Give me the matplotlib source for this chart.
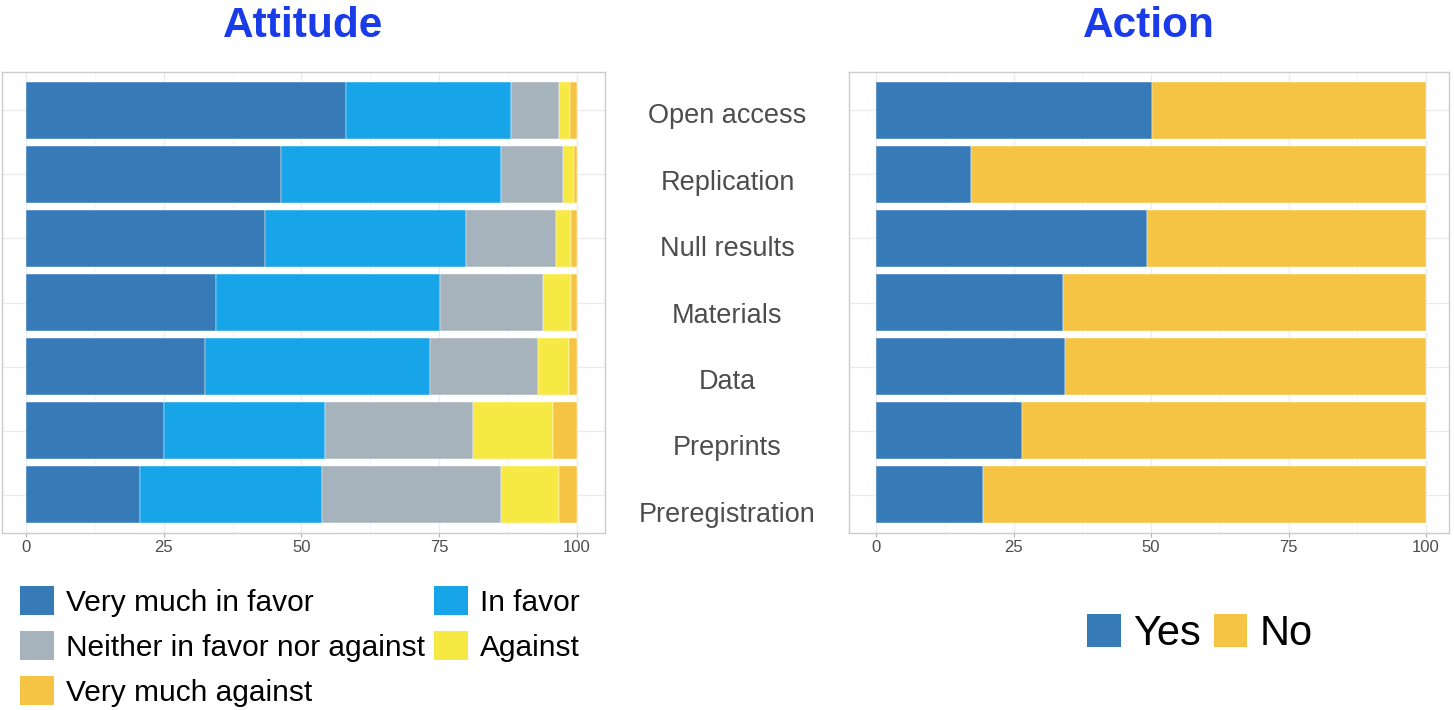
import numpy as np
import matplotlib
matplotlib.use("Agg")
import matplotlib.pyplot as plt
from matplotlib.patches import Patch

plt.rcParams['font.family'] = ['Liberation Sans', 'DejaVu Sans']

categories = ["Open access", "Replication", "Null results", "Materials",
              "Data", "Preprints", "Preregistration"]

# attitude shares (percent), one list per answer
very_much_in_favor = [58.1, 46.2, 43.4, 34.4, 32.4, 25.1, 20.7]
in_favor = [30.0, 40.1, 36.5, 40.8, 40.9, 29.2, 33.1]
neither = [8.6, 11.2, 16.3, 18.7, 19.7, 26.9, 32.4]
against = [2.1, 1.9, 2.8, 5.0, 5.6, 14.4, 10.5]
very_much_against = [1.2, 0.6, 1.0, 1.1, 1.4, 4.4, 3.3]

# action shares (percent)
yes = [50.2, 17.2, 49.2, 34.0, 34.4, 26.6, 19.5]
no = [49.8, 82.8, 50.8, 66.0, 65.6, 73.4, 80.5]

attitude_labels = ["Very much in favor", "In favor", "Neither in favor nor against",
                   "Against", "Very much against"]
attitude_colors = ["#367bb7", "#18a4e9", "#a6b3bc", "#f7e944", "#f6c444"]
action_labels = ["Yes", "No"]
action_colors = ["#367bb7", "#f6c444"]

W, H = 1454, 710
fig = plt.figure(figsize=(W / 100, H / 100), dpi=100)

def px_axes(x0, y0, x1, y1):
    return fig.add_axes([x0 / W, 1 - y1 / H, (x1 - x0) / W, (y1 - y0) / H])

def style(ax, xlim):
    ax.set_xlim(*xlim)
    ax.set_ylim(6.6, -0.6)
    ax.set_xticks([0, 25, 50, 75, 100])
    ax.set_xticks([12.5, 37.5, 62.5, 87.5], minor=True)
    ax.set_yticks(range(len(categories)))
    ax.set_yticklabels([])
    ax.grid(True, which="major", color="#ebebeb", lw=1.0)
    ax.grid(True, which="minor", axis="x", color="#f5f5f5", lw=0.8)
    ax.set_axisbelow(True)
    for s in ax.spines.values():
        s.set_color("#cccccc")
        s.set_linewidth(1.0)
    ax.tick_params(axis="x", which="major", length=3, color="#b3b3b3",
                   labelsize=12, labelcolor="#4d4d4d", pad=2)
    ax.tick_params(axis="x", which="minor", length=0)
    ax.tick_params(axis="y", length=0)

y = np.arange(len(categories))

# left panel: attitude
ax1 = px_axes(2, 72, 605, 533)
style(ax1, (-4.36, 105.1))
left = np.zeros(len(categories))
series = [very_much_in_favor, in_favor, neither, against, very_much_against]
for vals, col, lab in zip(series, attitude_colors, attitude_labels):
    ax1.barh(y, vals, left=left, height=0.9, color=col, label=lab,
             edgecolor="white", linewidth=0.3)
    left += np.array(vals)
ax1.set_title("Attitude", fontsize=30.5, fontweight="bold", color="#1a3be8", pad=25)

# right panel: action
ax2 = px_axes(849, 72, 1449, 533)
style(ax2, (-4.91, 104.18))
ax2.barh(y, yes, height=0.9, color=action_colors[0], label="Yes",
         edgecolor="white", linewidth=0.3)
ax2.barh(y, no, left=yes, height=0.9, color=action_colors[1], label="No",
         edgecolor="white", linewidth=0.3)
ax2.set_title("Action", fontsize=30.5, fontweight="bold", color="#1a3be8", pad=25)

# category labels between the panels
axm = px_axes(610, 83, 845, 548)
axm.set_xlim(0, 1)
axm.set_ylim(6.5, -0.5)
axm.axis("off")
for i, name in enumerate(categories):
    axm.text(0.5, i, name, ha="center", va="center", fontsize=19.5, color="#4d4d4d")

# legends
h = [Patch(facecolor=c) for c in attitude_colors]
order = [0, 2, 4, 1, 3]
fig.legend([h[i] for i in order], [attitude_labels[i] for i in order],
           loc="upper left", bbox_to_anchor=(20 / W, 1 - 586 / H), ncol=2,
           frameon=False, fontsize=21.5, handlelength=1.14, handleheight=1.14,
           handletextpad=0.4, labelspacing=0.47, columnspacing=0.3,
           borderpad=0, borderaxespad=0)

h2 = [Patch(facecolor=c) for c in action_colors]
fig.legend(h2, action_labels, loc="upper left", bbox_to_anchor=(1087 / W, 1 - 614 / H),
           ncol=2, frameon=False, fontsize=30, handlelength=0.81, handleheight=0.84,
           handletextpad=0.29, columnspacing=0.31, borderpad=0, borderaxespad=0)

fig.savefig("out.png", dpi=100)
